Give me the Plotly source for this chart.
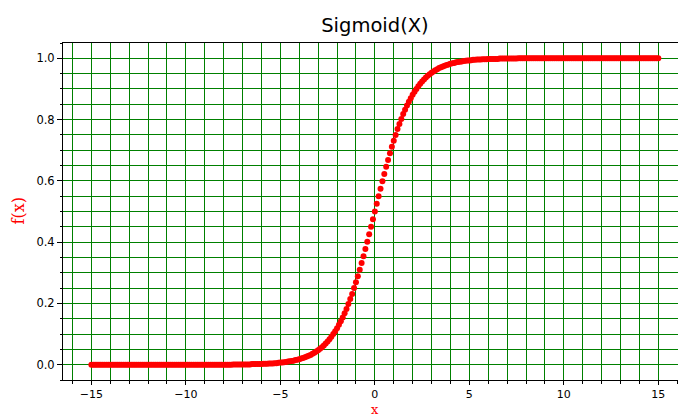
import plotly.graph_objects as go

# x values sampled every 0.1 from -15 to 15
x_vals = [
    -15.0, -14.9, -14.8, -14.7, -14.6, -14.5, -14.4, -14.3, -14.2, -14.1,
    -14.0, -13.9, -13.8, -13.7, -13.6, -13.5, -13.4, -13.3, -13.2, -13.1,
    -13.0, -12.9, -12.8, -12.7, -12.6, -12.5, -12.4, -12.3, -12.2, -12.1,
    -12.0, -11.9, -11.8, -11.7, -11.6, -11.5, -11.4, -11.3, -11.2, -11.1,
    -11.0, -10.9, -10.8, -10.7, -10.6, -10.5, -10.4, -10.3, -10.2, -10.1,
    -10.0, -9.9, -9.8, -9.7, -9.6, -9.5, -9.4, -9.3, -9.2, -9.1,
    -9.0, -8.9, -8.8, -8.7, -8.6, -8.5, -8.4, -8.3, -8.2, -8.1,
    -8.0, -7.9, -7.8, -7.7, -7.6, -7.5, -7.4, -7.3, -7.2, -7.1,
    -7.0, -6.9, -6.8, -6.7, -6.6, -6.5, -6.4, -6.3, -6.2, -6.1,
    -6.0, -5.9, -5.8, -5.7, -5.6, -5.5, -5.4, -5.3, -5.2, -5.1,
    -5.0, -4.9, -4.8, -4.7, -4.6, -4.5, -4.4, -4.3, -4.2, -4.1,
    -4.0, -3.9, -3.8, -3.7, -3.6, -3.5, -3.4, -3.3, -3.2, -3.1,
    -3.0, -2.9, -2.8, -2.7, -2.6, -2.5, -2.4, -2.3, -2.2, -2.1,
    -2.0, -1.9, -1.8, -1.7, -1.6, -1.5, -1.4, -1.3, -1.2, -1.1,
    -1.0, -0.9, -0.8, -0.7, -0.6, -0.5, -0.4, -0.3, -0.2, -0.1,
    0.0, 0.1, 0.2, 0.3, 0.4, 0.5, 0.6, 0.7, 0.8, 0.9,
    1.0, 1.1, 1.2, 1.3, 1.4, 1.5, 1.6, 1.7, 1.8, 1.9,
    2.0, 2.1, 2.2, 2.3, 2.4, 2.5, 2.6, 2.7, 2.8, 2.9,
    3.0, 3.1, 3.2, 3.3, 3.4, 3.5, 3.6, 3.7, 3.8, 3.9,
    4.0, 4.1, 4.2, 4.3, 4.4, 4.5, 4.6, 4.7, 4.8, 4.9,
    5.0, 5.1, 5.2, 5.3, 5.4, 5.5, 5.6, 5.7, 5.8, 5.9,
    6.0, 6.1, 6.2, 6.3, 6.4, 6.5, 6.6, 6.7, 6.8, 6.9,
    7.0, 7.1, 7.2, 7.3, 7.4, 7.5, 7.6, 7.7, 7.8, 7.9,
    8.0, 8.1, 8.2, 8.3, 8.4, 8.5, 8.6, 8.7, 8.8, 8.9,
    9.0, 9.1, 9.2, 9.3, 9.4, 9.5, 9.6, 9.7, 9.8, 9.9,
    10.0, 10.1, 10.2, 10.3, 10.4, 10.5, 10.6, 10.7, 10.8, 10.9,
    11.0, 11.1, 11.2, 11.3, 11.4, 11.5, 11.6, 11.7, 11.8, 11.9,
    12.0, 12.1, 12.2, 12.3, 12.4, 12.5, 12.6, 12.7, 12.8, 12.9,
    13.0, 13.1, 13.2, 13.3, 13.4, 13.5, 13.6, 13.7, 13.8, 13.9,
    14.0, 14.1, 14.2, 14.3, 14.4, 14.5, 14.6, 14.7, 14.8, 14.9,
    15.0,
]

# f(x) values
y_vals = [
    0.000, 0.000, 0.000, 0.000, 0.000, 0.000, 0.000, 0.000, 0.000, 0.000,
    0.000, 0.000, 0.000, 0.000, 0.000, 0.000, 0.000, 0.000, 0.000, 0.000,
    0.000, 0.000, 0.000, 0.000, 0.000, 0.000, 0.000, 0.000, 0.000, 0.000,
    0.000, 0.000, 0.000, 0.000, 0.000, 0.000, 0.000, 0.000, 0.000, 0.000,
    0.000, 0.000, 0.000, 0.000, 0.000, 0.000, 0.000, 0.000, 0.000, 0.000,
    0.000, 0.000, 0.000, 0.000, 0.000, 0.000, 0.000, 0.000, 0.000, 0.000,
    0.000, 0.000, 0.000, 0.000, 0.000, 0.000, 0.000, 0.000, 0.000, 0.000,
    0.000, 0.000, 0.000, 0.000, 0.000, 0.001, 0.001, 0.001, 0.001, 0.001,
    0.001, 0.001, 0.001, 0.001, 0.001, 0.002, 0.002, 0.002, 0.002, 0.002,
    0.002, 0.003, 0.003, 0.003, 0.004, 0.004, 0.004, 0.005, 0.005, 0.006,
    0.007, 0.007, 0.008, 0.009, 0.010, 0.011, 0.012, 0.013, 0.015, 0.016,
    0.018, 0.020, 0.022, 0.024, 0.027, 0.029, 0.032, 0.036, 0.039, 0.043,
    0.047, 0.052, 0.057, 0.063, 0.069, 0.076, 0.083, 0.091, 0.100, 0.109,
    0.119, 0.130, 0.142, 0.154, 0.168, 0.182, 0.198, 0.214, 0.231, 0.250,
    0.269, 0.289, 0.310, 0.332, 0.354, 0.378, 0.401, 0.426, 0.450, 0.475,
    0.500, 0.525, 0.550, 0.574, 0.599, 0.622, 0.646, 0.668, 0.690, 0.711,
    0.731, 0.750, 0.769, 0.786, 0.802, 0.818, 0.832, 0.846, 0.858, 0.870,
    0.881, 0.891, 0.900, 0.909, 0.917, 0.924, 0.931, 0.937, 0.943, 0.948,
    0.953, 0.957, 0.961, 0.964, 0.968, 0.971, 0.973, 0.976, 0.978, 0.980,
    0.982, 0.984, 0.985, 0.987, 0.988, 0.989, 0.990, 0.991, 0.992, 0.993,
    0.993, 0.994, 0.995, 0.995, 0.996, 0.996, 0.996, 0.997, 0.997, 0.997,
    0.998, 0.998, 0.998, 0.998, 0.998, 0.998, 0.999, 0.999, 0.999, 0.999,
    0.999, 0.999, 0.999, 0.999, 0.999, 0.999, 1.000, 1.000, 1.000, 1.000,
    1.000, 1.000, 1.000, 1.000, 1.000, 1.000, 1.000, 1.000, 1.000, 1.000,
    1.000, 1.000, 1.000, 1.000, 1.000, 1.000, 1.000, 1.000, 1.000, 1.000,
    1.000, 1.000, 1.000, 1.000, 1.000, 1.000, 1.000, 1.000, 1.000, 1.000,
    1.000, 1.000, 1.000, 1.000, 1.000, 1.000, 1.000, 1.000, 1.000, 1.000,
    1.000, 1.000, 1.000, 1.000, 1.000, 1.000, 1.000, 1.000, 1.000, 1.000,
    1.000, 1.000, 1.000, 1.000, 1.000, 1.000, 1.000, 1.000, 1.000, 1.000,
    1.000, 1.000, 1.000, 1.000, 1.000, 1.000, 1.000, 1.000, 1.000, 1.000,
    1.000,
]

x_ticks = [-15, -10, -5, 0, 5, 10, 15]
y_ticks = [0.0, 0.2, 0.4, 0.6, 0.8, 1.0]

GRID = "#008000"
tick_font = dict(family="DejaVu Sans", size=11, color="black")

fig = go.Figure()
fig.add_trace(go.Scatter(
    x=x_vals, y=y_vals, mode="markers",
    marker=dict(color="red", size=6, line=dict(width=0)),
    showlegend=False, hoverinfo="skip",
))

fig.update_layout(
    width=678, height=419,
    margin=dict(l=63, r=0, t=43, b=39),
    paper_bgcolor="white", plot_bgcolor="white",
    title=dict(text="Sigmoid(X)", x=0.5073, xref="paper", y=1 - 25 / 419,
               yref="container", xanchor="center", yanchor="middle",
               font=dict(family="DejaVu Sans", size=19.5, color="black")),
    xaxis=dict(
        range=[-16.5, 16.04], tickvals=x_ticks, ticktext=[str(v).replace("-", "\u2212") for v in x_ticks],
        ticks="outside", ticklen=4, tickwidth=1, tickcolor="black",
        showline=True, linecolor="black", linewidth=1, mirror=True,
        showgrid=True, gridcolor=GRID, gridwidth=1, zeroline=False,
        tickfont=tick_font,
        minor=dict(dtick=1, tick0=0, ticks="outside", ticklen=2.5, tickcolor="black",
                   showgrid=True, gridcolor=GRID, gridwidth=1),
    ),
    yaxis=dict(
        range=[-0.05, 1.05], tickvals=y_ticks, ticktext=[f"{v:.1f}" for v in y_ticks],
        ticks="outside", ticklen=5, tickwidth=1, tickcolor="black",
        showline=True, linecolor="black", linewidth=1, mirror=False,
        showgrid=True, gridcolor=GRID, gridwidth=1, zeroline=False,
        tickfont=dict(family="DejaVu Sans", size=11.5, color="black"),
        minor=dict(dtick=0.05, tick0=0, ticks="outside", ticklen=2.5, tickcolor="black",
                   showgrid=True, gridcolor=GRID, gridwidth=1),
    ),
    annotations=[
        dict(text="f(x)", xref="paper", yref="paper", x=(18 - 63) / 615, y=0.5,
             xanchor="center", yanchor="middle", textangle=-90, showarrow=False,
             font=dict(family="DejaVu Serif", size=16, color="red")),
        dict(text="x", xref="paper", yref="paper", x=0.5073, y=(380 - 419) / 337,
             xanchor="center", yanchor="bottom", showarrow=False,
             font=dict(family="DejaVu Serif", size=13, color="red")),
    ],
)

fig.write_html("out.html")
